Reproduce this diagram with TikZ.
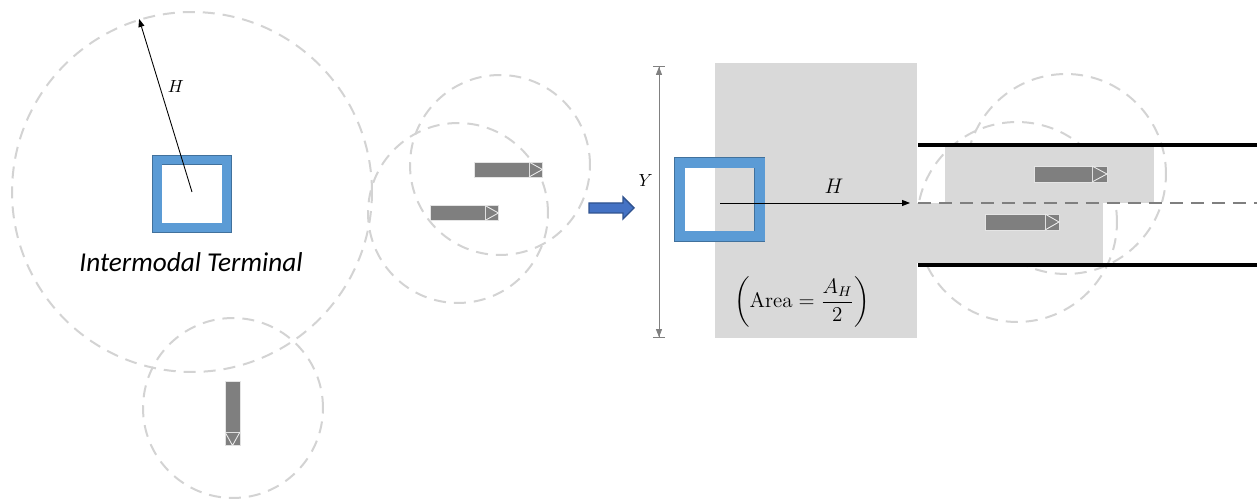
\documentclass[tikz,border=0pt]{standalone}
\usepackage{fontspec}
\usepackage{amsmath}
\newfontfamily\labelfont{Carlito}
\usepackage{tikz}
\usetikzlibrary{arrows.meta, positioning}

\definecolor{termblue}{HTML}{5B9BD5}
\definecolor{termedge}{HTML}{41719C}
\definecolor{flowblue}{HTML}{4472C4}
\definecolor{flowedge}{HTML}{2F528F}
\definecolor{areagray}{HTML}{D9D9D9}
\definecolor{ringgray}{HTML}{D3D3D3}
\definecolor{truckgray}{HTML}{7F7F7F}

\begin{document}
\begin{tikzpicture}[x=0.02cm, y=-0.02cm,
  zone/.style={circle, draw=ringgray, line width=0.04cm,
               dash pattern=on 0.24cm off 0.16cm, inner sep=0pt},
  terminal/.style={rectangle, draw=termedge, double=termblue,
                   double distance=0.18cm, line width=0.3pt, inner sep=0pt},
  truckbody/.style={rectangle, fill=truckgray, draw=white!90!black, line width=0.4pt,
                    minimum width=1.1cm, minimum height=0.3cm, inner sep=0pt, outer sep=0pt},
  truckcab/.style={rectangle, fill=truckgray, draw=white!88!black, line width=0.4pt,
                   minimum width=0.27cm, minimum height=0.3cm, inner sep=0pt, outer sep=0pt},
  cabmark/.style={draw=white!92!black, line width=0.5pt},
  areabox/.style={rectangle, fill=areagray, inner sep=0pt, outer sep=0pt},
  road/.style={line width=0.065cm},
  lane/.style={draw=truckgray, line width=0.055cm, dash pattern=on 0.26cm off 0.16cm},
  reach/.style={-{Triangle[length=0.16cm, width=0.12cm]}, line width=0.5pt},
  dimline/.style={draw=gray, line width=0.5pt,
    {Bar[width=0.24cm]Triangle[length=0.16cm,width=0.12cm]}-{Triangle[length=0.16cm,width=0.12cm]Bar[width=0.24cm]}}
]
\useasboundingbox (0,0) rectangle (1257,502);

% left: catchment rings
\node[zone, minimum size=7.2cm] (bigzone) at (192,192) {};
\node[zone, minimum size=3.6cm] (lowzone) at (233,408) {};
\node[zone, minimum size=3.6cm] (zoneone) at (500,165) {};
\node[zone, minimum size=3.6cm] (zonetwo) at (458,213) {};

\node[terminal, minimum width=1.4cm, minimum height=1.36cm] (termL) at (192,194) {};
\draw[reach] (bigzone.center) -- node[pos=0.61, right=1pt] {$H$} (bigzone.107);
\node[font=\labelfont\itshape\fontsize{15.5}{18}\selectfont] (termtext) at (191,262) {Intermodal Terminal};

% left trucks
\node[truckbody, anchor=west] (ta) at (474,169.5) {};
\node[truckcab, right=0pt of ta] (tac) {};
\draw[cabmark] (tac.north west) -- (tac.east) -- (tac.south west);
\node[truckbody, anchor=west] (tb) at (430,213) {};
\node[truckcab, right=0pt of tb] (tbc) {};
\draw[cabmark] (tbc.north west) -- (tbc.east) -- (tbc.south west);
\node[truckbody, rotate=-90, anchor=west, minimum width=1.02cm] (tv) at (232.5,381) {};
\node[truckcab, rotate=-90, anchor=west] (tvc) at (tv.east) {};
\draw[cabmark] (tvc.north west) -- (tvc.east) -- (tvc.south west);

% transition arrow
\draw[fill=flowblue, draw=flowedge, line width=0.8pt]
  (589,203) -- (623,203) -- (623,197) -- (634,208) -- (623,219) -- (623,213) -- (589,213) -- cycle;

% right: rings under the shaded areas
\node[zone, minimum size=4cm] (zonethree) at (1066,174) {};
\node[zone, minimum size=4cm] (zonefour) at (1017,222) {};

\node[areabox, minimum width=4.04cm, minimum height=5.5cm] (halfarea) at (816,200.5) {};
\node[areabox, minimum width=4.18cm, minimum height=1.12cm] (upperlane) at (1049.5,175) {};
\node[areabox, minimum width=3.76cm, minimum height=1.2cm] (lowerlane) at (1009,233) {};

\draw[road] (918,145) -- (1257,145);
\draw[road] (918,265) -- (1257,265);
\draw[lane] (918,203) -- (1257,203);

\node[truckbody, anchor=west, minimum width=1.16cm, minimum height=0.32cm] (tc) at (1034,174) {};
\node[truckcab, right=0pt of tc, minimum width=0.3cm, minimum height=0.32cm] (tcc) {};
\draw[cabmark] (tcc.north west) -- (tcc.east) -- (tcc.south west);
\node[truckbody, anchor=west, minimum width=1.2cm, minimum height=0.32cm] (td) at (985,222) {};
\node[truckcab, right=0pt of td, minimum width=0.28cm, minimum height=0.32cm] (tdc) {};
\draw[cabmark] (tdc.north west) -- (tdc.east) -- (tdc.south west);

\node[terminal, double distance=0.2cm, minimum width=1.6cm, minimum height=1.48cm] (termR) at (719.5,199.5) {};
\coordinate (hstart) at (720,203);
\coordinate (hend) at (910,203);
\draw[reach] (hstart) -- node[pos=0.6, above=2pt, font=\large] {$H$} (hend);

\coordinate (ytop) at (659,66);
\coordinate (ybot) at (659,338);
\draw[dimline] (ytop) -- node[pos=0.42, left=0pt] {$Y$} (ybot);

\node[font=\large] (arealabel) at (802,302) {$\left(\text{Area} = \dfrac{A_H}{2}\right)$};
\end{tikzpicture}
\end{document}
